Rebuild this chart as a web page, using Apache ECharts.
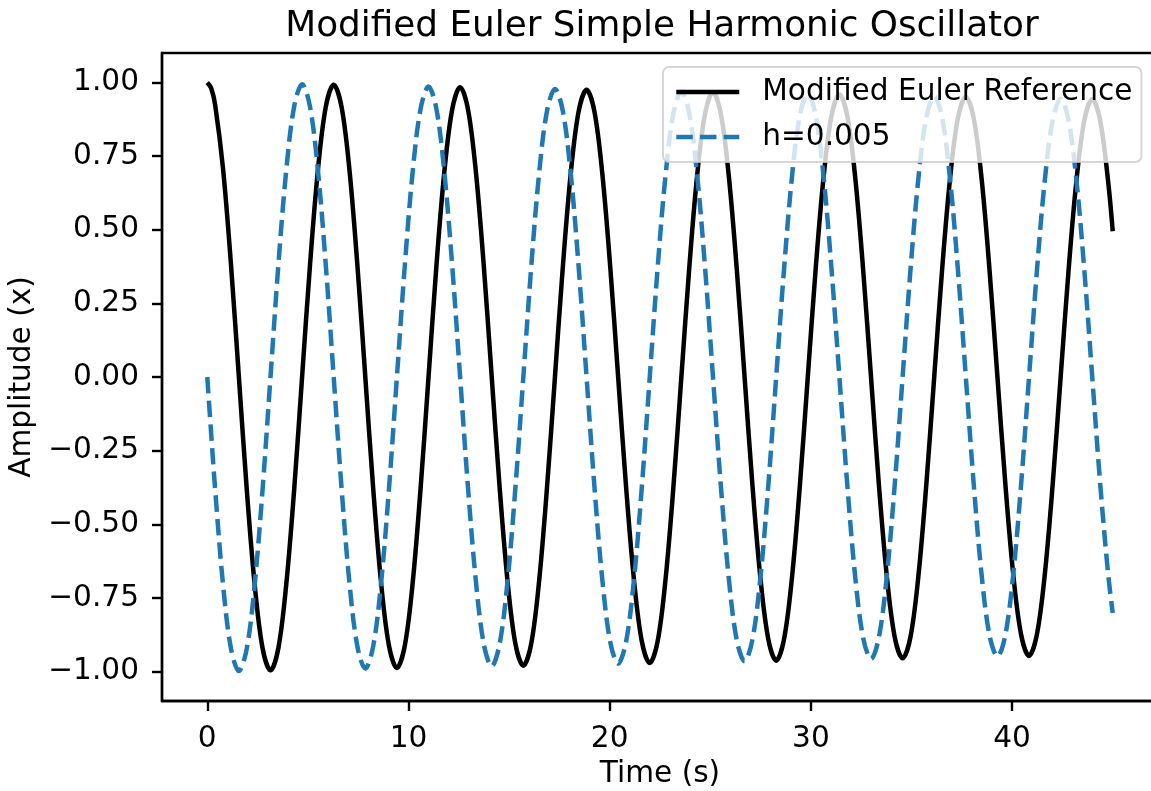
<!DOCTYPE html>
<html>
<head>
<meta charset="utf-8">
<script src="https://cdn.jsdelivr.net/npm/echarts@6/dist/echarts.min.js"></script>
<style>html,body{margin:0;padding:0;background:#fff}#chart{width:1151px;height:791px}</style>
</head>
<body>
<div id="chart"></div>
<script>
const titleText = 'Modified Euler Simple Harmonic Oscillator';
const seriesNames = ['Modified Euler Reference', 'h=0.005'];
const xTicks = [0, 10, 20, 30, 40];
const yTicks = [-1, -0.75, -0.5, -0.25, 0, 0.25, 0.5, 0.75, 1];

// time samples (s)
const timeS = [0,0.196,0.393,0.785,1.178,1.571,1.963,2.356,2.749,3.142,3.534,3.927,4.320,4.712,5.105,5.498,5.890,
  6.283,6.676,7.069,7.461,7.854,8.247,8.639,9.032,9.425,9.817,10.210,10.603,10.996,11.388,11.781,12.174,
  12.566,12.959,13.352,13.744,14.137,14.530,14.923,15.315,15.708,16.101,16.493,16.886,17.279,17.671,18.064,18.457,
  18.850,19.242,19.635,20.028,20.420,20.813,21.206,21.598,21.991,22.384,22.777,23.169,23.562,23.955,24.347,24.740,
  25.133,25.525,25.918,26.311,26.704,27.096,27.489,27.882,28.274,28.667,29.060,29.452,29.845,30.238,30.631,31.023,
  31.416,31.809,32.201,32.594,32.987,33.379,33.772,34.165,34.558,34.950,35.343,35.736,36.128,36.521,36.914,37.306,
  37.699,38.092,38.485,38.877,39.270,39.663,40.055,40.448,40.841,41.233,41.626,42.019,42.412,42.804,43.197,43.590,
  43.982,44.375,44.768,45];

// Modified Euler reference (black solid)
const refAmp = [1.000,0.980,0.923,0.706,0.382,0,-0.382,-0.705,-0.921,-0.996,-0.920,-0.703,-0.381,0,0.380,0.702,0.917,
  0.992,0.916,0.701,0.379,0,-0.379,-0.699,-0.913,-0.988,-0.912,-0.698,-0.377,0,0.377,0.696,0.909,
  0.984,0.908,0.695,0.376,0,-0.375,-0.693,-0.906,-0.980,-0.905,-0.692,-0.374,0,0.374,0.691,0.902,
  0.975,0.901,0.689,0.373,0,-0.372,-0.688,-0.898,-0.971,-0.897,-0.686,-0.371,0,0.371,0.685,0.894,
  0.967,0.893,0.683,0.370,0,-0.369,-0.682,-0.890,-0.963,-0.889,-0.680,-0.368,0,0.368,0.679,0.887,
  0.959,0.886,0.678,0.366,0,-0.366,-0.676,-0.883,-0.955,-0.882,-0.675,-0.365,0,0.365,0.673,0.879,
  0.951,0.878,0.672,0.363,0,-0.363,-0.670,-0.875,-0.947,-0.874,-0.669,-0.362,0,0.361,0.667,0.872,
  0.943,0.871,0.666,0.495];

// h=0.005 (blue dashed)
const h005Amp = [0,-0.195,-0.383,-0.706,-0.922,-0.998,-0.922,-0.705,-0.381,0,0.381,0.703,0.919,0.994,0.918,0.702,0.380,
  0,-0.379,-0.701,-0.915,-0.990,-0.914,-0.699,-0.378,0,0.378,0.698,0.911,0.986,0.910,0.696,0.377,
  0,-0.376,-0.695,-0.907,-0.982,-0.906,-0.693,-0.375,0,0.375,0.692,0.904,0.978,0.903,0.691,0.374,
  0,-0.373,-0.689,-0.900,-0.973,-0.899,-0.688,-0.372,0,0.372,0.686,0.896,0.969,0.895,0.685,0.370,
  0,-0.370,-0.683,-0.892,-0.965,-0.891,-0.682,-0.369,0,0.368,0.680,0.889,0.961,0.888,0.679,0.367,
  0,-0.367,-0.678,-0.885,-0.957,-0.884,-0.676,-0.366,0,0.365,0.675,0.881,0.953,0.880,0.673,0.364,
  0,-0.364,-0.672,-0.877,-0.949,-0.876,-0.670,-0.363,0,0.362,0.669,0.873,0.945,0.872,0.667,0.361,
  0,-0.361,-0.666,-0.801];

const FONT = 'DejaVu Sans';
const chart = echarts.init(document.getElementById('chart'), null, {renderer: 'canvas', width: 1151, height: 791});
const fmtY = v => (v < 0 ? '\u2212' : '') + Math.abs(v).toFixed(2);
const pairs = arr => timeS.map((t, i) => [t, arr[i]]);

const option = {
  animation: false,
  backgroundColor: '#ffffff',
  title: {
    text: titleText, left: 657, top: 4, textAlign: 'center',
    textStyle: {fontFamily: FONT, fontSize: 35.8, fontWeight: 'normal', color: '#000'}
  },
  grid: {
    left: 162, top: 53, width: 996, height: 648,
    show: true, borderColor: '#000', borderWidth: 2.4, backgroundColor: 'transparent',
    containLabel: false, outerBoundsMode: 'none'
  },
  legend: {
    orient: 'vertical', left: 663, top: 67,
    padding: [10, 9, 10, 11], itemGap: 15, itemWidth: 63, itemHeight: 14,
    backgroundColor: 'rgba(255,255,255,0.8)', borderColor: 'rgba(204,204,204,0.8)',
    borderWidth: 2, borderRadius: 6,
    itemStyle: {opacity: 0, borderWidth: 0},
    lineStyle: {width: 4.5},
    textStyle: {fontFamily: FONT, fontSize: 29.6, color: '#000', lineHeight: 30, padding: [0, 0, 0, 18]},
    data: seriesNames
  },
  xAxis: {
    type: 'value', min: -2.25, max: 47.25,
    name: 'Time (s)', nameLocation: 'middle', nameGap: 58,
    nameTextStyle: {fontFamily: FONT, fontSize: 29.6, color: '#000'},
    axisLine: {show: true, onZero: false, lineStyle: {color: '#000', width: 2.4}},
    axisTick: {show: true, customValues: xTicks, length: 10, lineStyle: {color: '#000', width: 2.4}},
    axisLabel: {customValues: xTicks, margin: 23, fontFamily: FONT, fontSize: 29.6, color: '#000', formatter: v => String(v)},
    splitLine: {show: false}
  },
  yAxis: {
    type: 'value', min: -1.1, max: 1.1,
    name: 'Amplitude (x)', nameLocation: 'middle', nameGap: 107,
    nameTextStyle: {fontFamily: FONT, fontSize: 29.6, color: '#000'},
    axisLine: {show: true, onZero: false, lineStyle: {color: '#000', width: 2.4}},
    axisTick: {show: true, customValues: yTicks, length: 10, lineStyle: {color: '#000', width: 2.4}},
    axisLabel: {customValues: yTicks, margin: 23, fontFamily: FONT, fontSize: 29.6, color: '#000', formatter: fmtY},
    splitLine: {show: false}
  },
  series: [
    {
      name: seriesNames[0], type: 'line', data: pairs(refAmp),
      symbol: 'none', showSymbol: false, smooth: 0.34, z: 2,
      lineStyle: {color: '#000000', width: 4.5, cap: 'butt', join: 'round'},
      itemStyle: {color: '#000000'}, emphasis: {disabled: true}
    },
    {
      name: seriesNames[1], type: 'line', data: pairs(h005Amp),
      symbol: 'none', showSymbol: false, smooth: 0.34, z: 3,
      lineStyle: {color: '#1f77b4', width: 4.5, type: [16.5, 7.2], cap: 'butt', join: 'round'},
      itemStyle: {color: '#1f77b4'}, emphasis: {disabled: true}
    }
  ]
};
chart.setOption(option);
</script>
</body>
</html>
